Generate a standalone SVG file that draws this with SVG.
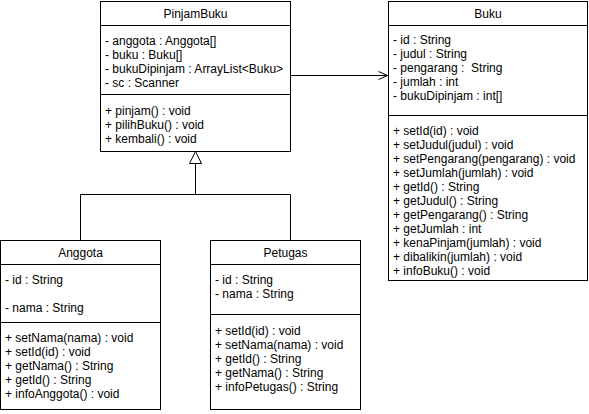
<svg xmlns="http://www.w3.org/2000/svg" width="589" height="414" viewBox="0 0 589 414">
<defs>
<style>
.box{fill:#fff;stroke:#000;stroke-width:1}
.ln{stroke:#000;stroke-width:1;fill:none}
text{font-family:"Liberation Sans",Arial,sans-serif;font-size:12px;fill:#000;white-space:pre}
.t{text-anchor:middle;font-size:12px}
</style>
<marker id="open" markerWidth="12" markerHeight="12" refX="10" refY="5" orient="auto" markerUnits="userSpaceOnUse">
<path d="M1,1 L10,5 L1,9" fill="none" stroke="#000" stroke-width="1"/>
</marker>
</defs>
<g id="connectors">
<line class="ln" x1="290.5" y1="75.5" x2="387.5" y2="75.5" marker-end="url(#open)"/>
<path class="ln" d="M80.5,240.5 V194.5 H290.5 V240.5 M195.5,194.5 V163.5"/>
<path d="M195.5,151.5 L201.5,163.5 L189.5,163.5 Z" fill="#fff" stroke="#000"/>
</g>
<g id="PinjamBuku">
<rect class="box" x="100.5" y="1.5" width="190" height="150"/>
<line class="ln" x1="100.5" y1="25.5" x2="290.5" y2="25.5"/>
<line class="ln" x1="100.5" y1="94.5" x2="290.5" y2="94.5"/>
<text class="t" x="195.5" y="18">PinjamBuku</text>
<text x="105" y="45">- anggota : Anggota[]</text>
<text x="105" y="59">- buku : Buku[]</text>
<text x="105" y="73">- bukuDipinjam : ArrayList&lt;Buku&gt;</text>
<text x="105" y="87">- sc : Scanner</text>
<text x="105" y="115">+ pinjam() : void</text>
<text x="105" y="129">+ pilihBuku() : void</text>
<text x="105" y="143">+ kembali() : void</text>
</g>
<g id="Buku">
<rect class="box" x="388.5" y="1.5" width="199" height="279"/>
<line class="ln" x1="388.5" y1="25.5" x2="587.5" y2="25.5"/>
<line class="ln" x1="388.5" y1="115.5" x2="587.5" y2="115.5"/>
<text class="t" x="488" y="18">Buku</text>
<text x="393" y="44">- id : String</text>
<text x="393" y="58">- judul : String</text>
<text x="393" y="72">- pengarang :  String</text>
<text x="393" y="86">- jumlah : int</text>
<text x="393" y="100">- bukuDipinjam : int[]</text>
<text x="393" y="135">+ setId(id) : void</text>
<text x="393" y="149">+ setJudul(judul) : void</text>
<text x="393" y="163">+ setPengarang(pengarang) : void</text>
<text x="393" y="177">+ setJumlah(jumlah) : void</text>
<text x="393" y="191">+ getId() : String</text>
<text x="393" y="205">+ getJudul() : String</text>
<text x="393" y="219">+ getPengarang() : String</text>
<text x="393" y="233">+ getJumlah : int</text>
<text x="393" y="247">+ kenaPinjam(jumlah) : void</text>
<text x="393" y="261">+ dibalikin(jumlah) : void</text>
<text x="393" y="275">+ infoBuku() : void</text>
</g>
<g id="Anggota">
<rect class="box" x="0.5" y="240.5" width="160" height="169"/>
<line class="ln" x1="0.5" y1="264.5" x2="160.5" y2="264.5"/>
<line class="ln" x1="0.5" y1="322.5" x2="160.5" y2="322.5"/>
<text class="t" x="80.5" y="257">Anggota</text>
<text x="5" y="284">- id : String</text>
<text x="5" y="312">- nama : String</text>
<text x="5" y="342">+ setNama(nama) : void</text>
<text x="5" y="356">+ setId(id) : void</text>
<text x="5" y="370">+ getNama() : String</text>
<text x="5" y="384">+ getId() : String</text>
<text x="5" y="398">+ infoAnggota() : void</text>
</g>
<g id="Petugas">
<rect class="box" x="210.5" y="240.5" width="150" height="169"/>
<line class="ln" x1="210.5" y1="264.5" x2="360.5" y2="264.5"/>
<line class="ln" x1="210.5" y1="314.5" x2="360.5" y2="314.5"/>
<text class="t" x="285.5" y="257">Petugas</text>
<text x="215" y="284">- id : String</text>
<text x="215" y="298">- nama : String</text>
<text x="215" y="335">+ setId(id) : void</text>
<text x="215" y="349">+ setNama(nama) : void</text>
<text x="215" y="363">+ getId() : String</text>
<text x="215" y="377">+ getNama() : String</text>
<text x="215" y="391">+ infoPetugas() : String</text>
</g>
</svg>
